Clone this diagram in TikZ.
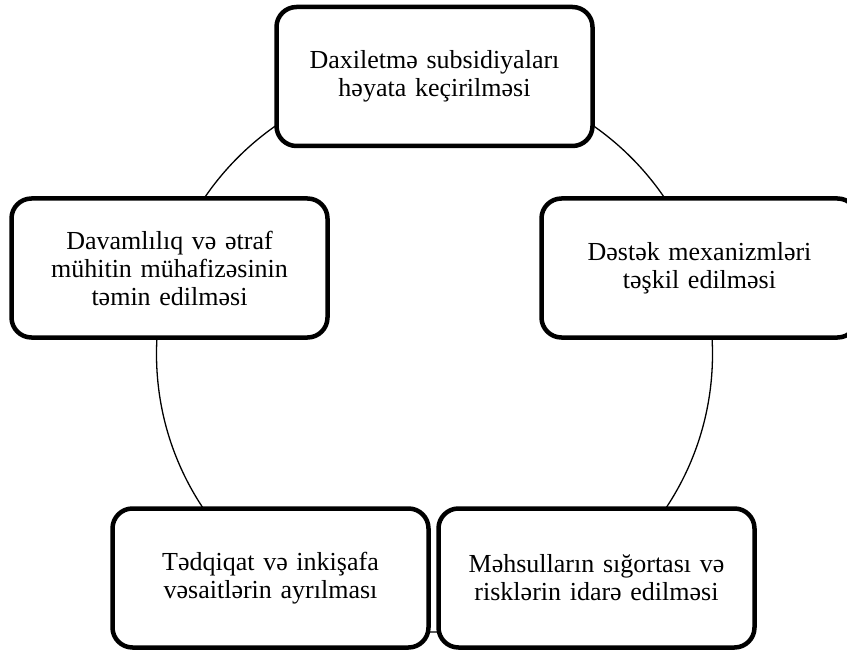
\documentclass[tikz,border=0pt]{standalone}
\usepackage{fontspec}
\setmainfont{Liberation Serif}
\tikzset{
  stagebox/.style={draw=black, line width=4.5pt, fill=white, rounded corners=20pt,
    minimum width=316pt, minimum height=139pt, inner sep=0pt,
    align=center, text width=305pt, font=\fontsize{26}{28}\selectfont},
  ring/.style={draw=black, line width=1.3pt}
}
\begin{document}
\begin{tikzpicture}[x=1pt,y=-1pt]
\useasboundingbox (0,0) rectangle (847,650);
\clip (0,0) rectangle (847,650);
\coordinate (ctr) at (434.5,354);
\draw[ring] (ctr) circle[radius=278pt];
\node[stagebox] (b1) at (434.5,76.5) {Daxiletmə subsidiyaları\\həyata keçirilməsi};
\node[stagebox] (b2) at (699.5,268) {Dəstək mexanizmləri\\təşkil edilməsi};
\node[stagebox] (b3) at (596.5,578) {Məhsulların sığortası və\\risklərin idarə edilməsi};
\node[stagebox] (b4) at (270.5,578) {Tədqiqat və inkişafa\\vəsaitlərin ayrılması};
\node[stagebox] (b5) at (169.5,268) {Davamlılıq və ətraf\\mühitin mühafizəsinin\\təmin edilməsi};
\end{tikzpicture}
\end{document}
